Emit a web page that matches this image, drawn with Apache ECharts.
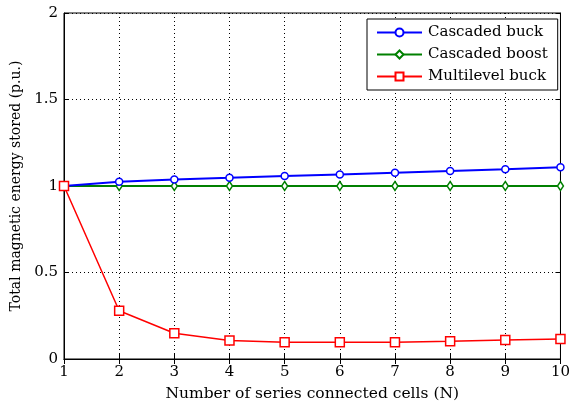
<!DOCTYPE html>
<html><head><meta charset="utf-8">
<script src="https://cdn.jsdelivr.net/npm/echarts@6/dist/echarts.min.js"></script>
<style>html,body{margin:0;padding:0;background:#fff}#c{width:573px;height:407px}</style>
</head><body><div id="c"></div>
<script>
const cells = [1,2,3,4,5,6,7,8,9,10];
const cascadedBuck = [1.0,1.025,1.037,1.047,1.058,1.067,1.077,1.087,1.097,1.108];
const cascadedBoost = [1.0,1.0,1.0,1.0,1.0,1.0,1.0,1.0,1.0,1.0];
const multilevelBuck = [1.0,0.279,0.149,0.107,0.097,0.097,0.097,0.103,0.11,0.116];
const xTicks = [1,2,3,4,5,6,7,8,9,10];
const yTicks = [0,0.5,1,1.5,2];

const font = 'DejaVu Serif';
const pair = a => cells.map((c,i)=>[c,a[i]]);
const chart = echarts.init(document.getElementById('c'));
const dotted = {show:true,lineStyle:{type:[1,3],color:'#000',width:1}};
chart.setOption({
  animation:false,
  textStyle:{fontFamily:font},
  grid:{left:64,right:11,top:13,bottom:45,show:true,borderColor:'#000',borderWidth:1,backgroundColor:'transparent'},
  legend:{
    orient:'vertical', left:367, top:19, width:190,
    padding:[6,10,6,9], itemGap:7, itemWidth:45, itemHeight:10,
    borderColor:'#000', borderWidth:1, backgroundColor:'#fff',
    textStyle:{fontFamily:font,fontSize:15,color:'#000',padding:[0,0,0,1]},
    data:['Cascaded buck','Cascaded boost','Multilevel buck']
  },
  xAxis:[{
    type:'value', min:1, max:10, interval:1,
    name:'Number of series connected cells (N)', nameLocation:'middle', nameGap:27,
    nameTextStyle:{fontFamily:font,fontSize:15.5,color:'#000'},
    axisLine:{lineStyle:{color:'#000'}},
    axisTick:{inside:true,length:5,lineStyle:{color:'#000'}},
    axisLabel:{fontFamily:font,fontSize:15,color:'#000',margin:6,formatter:v=>xTicks.includes(v)?String(v):''},
    splitLine:dotted
  },{
    type:'value', min:1, max:10, interval:1, position:'top',
    axisLine:{lineStyle:{color:'#000'}},
    axisTick:{inside:true,length:5,lineStyle:{color:'#000'}},
    axisLabel:{show:false}, splitLine:{show:false}
  }],
  yAxis:[{
    type:'value', min:0, max:2, interval:0.5,
    name:'Total magnetic energy stored (p.u.)', nameLocation:'middle', nameGap:40,
    nameTextStyle:{fontFamily:font,fontSize:14,color:'#000'},
    axisLine:{show:true,lineStyle:{color:'#000'}},
    axisTick:{show:true,inside:true,length:5,lineStyle:{color:'#000'}},
    axisLabel:{fontFamily:font,fontSize:15,color:'#000',margin:6,formatter:v=>yTicks.includes(v)?String(v):''},
    splitLine:dotted
  },{
    type:'value', min:0, max:2, interval:0.5, position:'right',
    axisLine:{show:true,lineStyle:{color:'#000'}},
    axisTick:{show:true,inside:true,length:5,lineStyle:{color:'#000'}},
    axisLabel:{show:false}, splitLine:{show:false}
  }],
  series:[
    {name:'Cascaded buck',type:'line',data:pair(cascadedBuck),symbol:'circle',symbolSize:7,
     color:'#0000ff',lineStyle:{width:2,color:'#0000ff'},
     itemStyle:{color:'#fff',borderColor:'#0000ff',borderWidth:1.5},z:3},
    {name:'Cascaded boost',type:'line',data:pair(cascadedBoost),symbol:'diamond',symbolSize:[6,9],
     color:'#008000',lineStyle:{width:2,color:'#008000'},
     itemStyle:{color:'#fff',borderColor:'#008000',borderWidth:1.5},z:2},
    {name:'Multilevel buck',type:'line',data:pair(multilevelBuck),symbol:'rect',symbolSize:9,
     color:'#ff0000',lineStyle:{width:1.5,color:'#ff0000'},
     itemStyle:{color:'#fff',borderColor:'#ff0000',borderWidth:1.5},z:4}
  ]
});
</script></body></html>
